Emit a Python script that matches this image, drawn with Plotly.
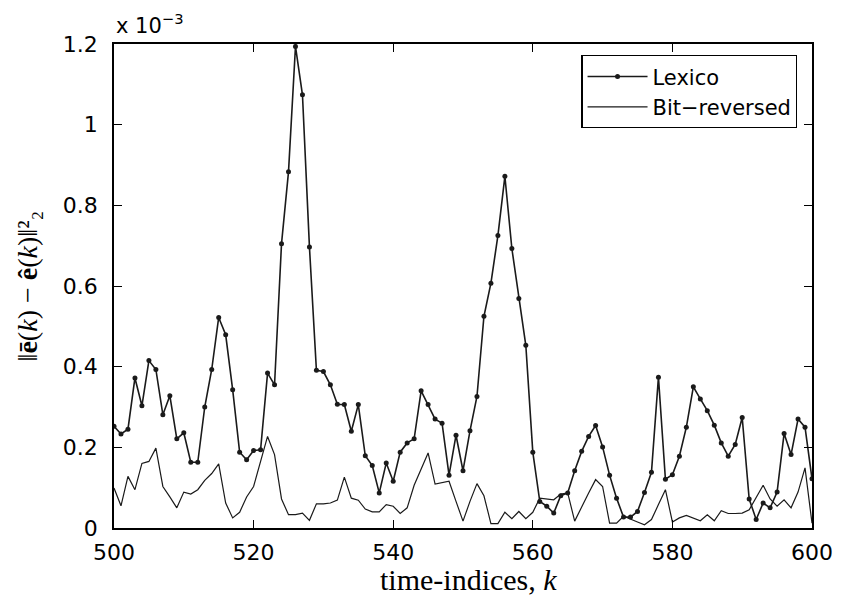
import plotly.graph_objects as go

# time indices k = 500 ... 600
k_start, k_end = 500, 600
time_index = list(range(k_start, k_end + 1))

# squared error norms, in units of 1e-3
lexico_e3 = [
    0.252, 0.233, 0.245, 0.372, 0.303, 0.415, 0.393, 0.281, 0.328, 0.221,
    0.236, 0.163, 0.163, 0.300, 0.393, 0.522, 0.479, 0.343, 0.188, 0.169,
    0.192, 0.194, 0.384, 0.355, 0.705, 0.883, 1.194, 1.074, 0.697, 0.391,
    0.388, 0.355, 0.307, 0.306, 0.240, 0.306, 0.179, 0.155, 0.087, 0.161,
    0.116, 0.188, 0.211, 0.221, 0.340, 0.306, 0.270, 0.260, 0.131, 0.230,
    0.142, 0.241, 0.326, 0.525, 0.607, 0.725, 0.872, 0.693, 0.569, 0.453,
    0.188, 0.066, 0.054, 0.037, 0.080, 0.087, 0.142, 0.190, 0.227, 0.254,
    0.201, 0.131, 0.074, 0.027, 0.027, 0.041, 0.088, 0.138, 0.374, 0.121,
    0.132, 0.178, 0.250, 0.350, 0.320, 0.291, 0.255, 0.211, 0.178, 0.207,
    0.274, 0.072, 0.021, 0.062, 0.050, 0.089, 0.234, 0.182, 0.270, 0.250,
    0.122,
]

bit_reversed_e3 = [
    0.099, 0.055, 0.128, 0.095, 0.160, 0.165, 0.198, 0.103, 0.077, 0.050,
    0.089, 0.084, 0.095, 0.118, 0.135, 0.159, 0.062, 0.025, 0.039, 0.077,
    0.103, 0.165, 0.227, 0.182, 0.072, 0.033, 0.033, 0.037, 0.019, 0.060,
    0.060, 0.062, 0.069, 0.126, 0.074, 0.069, 0.047, 0.040, 0.040, 0.058,
    0.054, 0.036, 0.050, 0.106, 0.145, 0.186, 0.109, 0.112, 0.116, 0.066,
    0.017, 0.066, 0.110, 0.080, 0.011, 0.011, 0.039, 0.023, 0.041, 0.023,
    0.039, 0.074, 0.072, 0.070, 0.084, 0.087, 0.017, 0.054, 0.087, 0.120,
    0.103, 0.012, 0.012, 0.029, 0.021, 0.015, 0.008, 0.021, 0.058, 0.095,
    0.015, 0.025, 0.031, 0.025, 0.018, 0.033, 0.018, 0.043, 0.036, 0.036,
    0.037, 0.045, 0.074, 0.106, 0.072, 0.054, 0.070, 0.050, 0.089, 0.149,
    0.012,
]

x_ticks = [500, 520, 540, 560, 580, 600]
y_ticks = [0, 0.2, 0.4, 0.6, 0.8, 1.0, 1.2]
y_tick_text = ["0", "0.2", "0.4", "0.6", "0.8", "1", "1.2"]

SANS = "DejaVu Sans"
SERIF = "Liberation Serif"
INK = "#1a1a1a"

fig = go.Figure()
fig.add_trace(go.Scatter(
    x=time_index, y=lexico_e3, name="Lexico", mode="lines+markers",
    line=dict(color=INK, width=1.6),
    marker=dict(color=INK, size=5, symbol="circle"),
))
fig.add_trace(go.Scatter(
    x=time_index, y=bit_reversed_e3, name="Bit\u2212reversed", mode="lines",
    line=dict(color=INK, width=1.2),
))

axis_common = dict(
    showline=True, linecolor="black", linewidth=1.6, mirror="ticks",
    ticks="inside", ticklen=8, tickwidth=1.2, tickcolor="black",
    showgrid=False, zeroline=False,
    tickfont=dict(family=SANS, size=22, color="black"),
)

fig.update_xaxes(range=[k_start, k_end], tickvals=x_ticks,
                 ticklabelstandoff=4, **axis_common)
fig.update_yaxes(range=[0, 1.2], tickvals=y_ticks, ticktext=y_tick_text,
                 ticklabelstandoff=10, **axis_common)

fig.update_layout(
    width=845, height=599,
    margin=dict(l=114, r=28, t=44, b=71),
    paper_bgcolor="white", plot_bgcolor="white",
    showlegend=True,
    legend=dict(
        x=0.979, y=0.977, xanchor="right", yanchor="top",
        bgcolor="white", bordercolor="black", borderwidth=1.2,
        font=dict(family=SANS, size=21, color="black"),
        tracegroupgap=0, itemwidth=60,
        entrywidth=215, entrywidthmode="pixels",
    ),
    annotations=[
        # axis multiplier
        dict(text="x 10<sup>\u22123</sup>", xref="paper", yref="paper",
             x=0, y=1, xanchor="left", yanchor="bottom", yshift=4,
             showarrow=False, font=dict(family=SANS, size=21, color="black")),
        # x-axis title
        dict(text="time-indices, <i>k</i>", xref="paper", yref="paper",
             x=0.508, y=-0.107, xanchor="center", yanchor="middle",
             showarrow=False, font=dict(family=SERIF, size=30, color="black")),
        # y-axis title
        dict(text="\u2016<b>\u0113</b>(<i>k</i>) \u2212 <b>\u00ea</b>(<i>k</i>)\u2016\u00b2\u2082",
             xref="paper", yref="paper", x=-0.124, y=0.5,
             xanchor="center", yanchor="middle", textangle=-90,
             showarrow=False, font=dict(family=SERIF, size=28, color="black")),
    ],
)

fig.write_html("out.html")
